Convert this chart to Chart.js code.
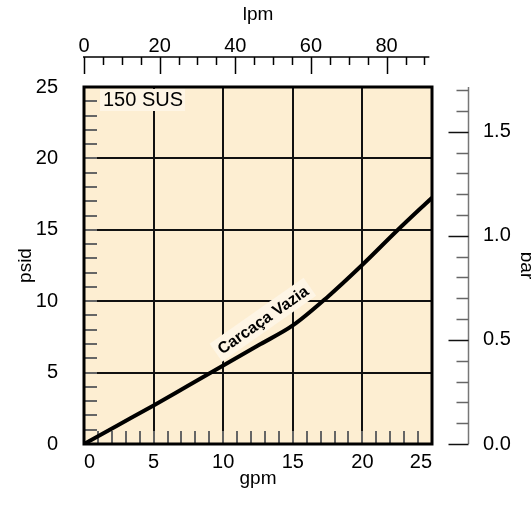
<!DOCTYPE html>
<html>
<head>
<meta charset="utf-8">
<script src="https://cdn.jsdelivr.net/npm/chart.js@4.4.1/dist/chart.umd.min.js"></script>
<style>
  html, body { margin: 0; padding: 0; background: #fff; }
  canvas { display: block; }
</style>
</head>
<body>
<canvas id="myChart" width="531" height="507"></canvas>
<script>
// curve (gpm -> psid)
const gpm = [0, 2.5, 5, 7.5, 10, 12.5, 15, 17.5, 20, 22.5, 25]
const psid = [0, 1.35, 2.7, 4.1, 5.5, 6.9, 8.3, 10.3, 12.55, 14.95, 17.25]

const gpmTicks = [0, 5, 10, 15, 20, 25]
const psidTicks = [0, 5, 10, 15, 20, 25]
const lpmTicks = [0, 20, 40, 60, 80]
const barTicks = [0, 0.5, 1.0, 1.5]

const fluidLabel = '150 SUS'
const curveLabel = 'Carcaça Vazia'
const curveLabelAt = [12.85, 8.7]

const clrPlot = '#fdeed2'
const clrLabelBg = '#fef5e5'
const fontFamily = '"Liberation Sans", Arial, Helvetica, sans-serif'

Chart.defaults.font.family = fontFamily
Chart.defaults.color = '#000'

const tickFont = { size: 20 }
const titleFont = { size: 19 }

const axesPlugin = {
  id: 'axesPlugin',
  beforeDraw(chart) {
    const { ctx, chartArea: a } = chart
    ctx.save()
    ctx.fillStyle = clrPlot
    ctx.fillRect(a.left, a.top, a.right - a.left, a.bottom - a.top)
    ctx.restore()
  },
  beforeDatasetsDraw(chart) {
    const { ctx, chartArea: a, scales } = chart
    const { x, y, x2, y2 } = scales
    ctx.save()

    // little ticks inside the plot
    ctx.strokeStyle = '#666'
    ctx.lineWidth = 2
    ctx.beginPath()
    for (let v = 1; v < 25; v++) {
      const px = Math.round(x.getPixelForValue(v))
      ctx.moveTo(px, a.bottom)
      ctx.lineTo(px, a.bottom - 13)
      const py = Math.round(y.getPixelForValue(v))
      ctx.moveTo(a.left, py)
      ctx.lineTo(a.left + 13, py)
    }
    ctx.stroke()

    // frame
    ctx.strokeStyle = '#000'
    ctx.lineWidth = 3
    ctx.strokeRect(a.left, a.top, a.right - a.left, a.bottom - a.top)

    // top lpm axis, ticks pointing down
    const ty = a.top - 30
    ctx.lineWidth = 1.5
    ctx.beginPath()
    ctx.moveTo(a.left - 1, ty)
    ctx.lineTo(x2.getPixelForValue(91.3), ty)
    for (let v = 0; v <= 90; v += 5) {
      const px = Math.round(x2.getPixelForValue(v)) + 0.5
      ctx.moveTo(px, ty)
      ctx.lineTo(px, ty + (v % 20 === 0 ? 17 : 8))
    }
    ctx.stroke()

    // right bar axis, ticks pointing left
    const rx = a.right + 36.5
    ctx.strokeStyle = '#777'
    ctx.lineWidth = 1.5
    ctx.beginPath()
    ctx.moveTo(rx, y2.getPixelForValue(0))
    ctx.lineTo(rx, a.top)
    ctx.stroke()
    for (let i = 0; i <= 17; i++) {
      const v = i / 10
      const py = Math.round(y2.getPixelForValue(v)) + 0.5
      ctx.strokeStyle = i % 5 === 0 ? '#111' : '#666'
      ctx.beginPath()
      ctx.moveTo(rx, py)
      ctx.lineTo(rx - (i % 5 === 0 ? 20 : 12), py)
      ctx.stroke()
    }
    ctx.restore()
  },
  afterDatasetsDraw(chart) {
    const { ctx, chartArea: a, scales: { x, y } } = chart
    ctx.save()
    ctx.textBaseline = 'middle'

    ctx.font = `20px ${fontFamily}`
    const w = ctx.measureText(fluidLabel).width
    const lx = a.left + 19
    const ly = a.top + 13
    ctx.fillStyle = clrLabelBg
    ctx.fillRect(lx - 3, ly - 11, w + 5, 22)
    ctx.fillStyle = '#000'
    ctx.fillText(fluidLabel, lx, ly)

    const cx = x.getPixelForValue(curveLabelAt[0])
    const cy = y.getPixelForValue(curveLabelAt[1])
    ctx.translate(cx, cy)
    ctx.rotate(-35 * Math.PI / 180)
    ctx.font = `bold 16px ${fontFamily}`
    const cw = ctx.measureText(curveLabel).width
    ctx.fillStyle = clrLabelBg
    ctx.fillRect(-cw / 2 - 4, -11, cw + 8, 22)
    ctx.fillStyle = '#000'
    ctx.textAlign = 'center'
    ctx.fillText(curveLabel, 0, 1)
    ctx.restore()
  },
}

const setTicks = (values) => (axis) => {
  axis.ticks = values.map((value) => ({ value }))
}

const config = {
  type: 'line',
  data: {
    datasets: [
      {
        data: gpm.map((g, i) => ({ x: g, y: psid[i] })),
        borderColor: '#000',
        borderWidth: 4,
        pointRadius: 0,
        cubicInterpolationMode: 'monotone',
        xAxisID: 'x',
        yAxisID: 'y',
      },
    ],
  },
  options: {
    responsive: false,
    animation: false,
    layout: { padding: 0 },
    plugins: {
      legend: { display: false },
      tooltip: { enabled: false },
    },
    scales: {
      x: {
        type: 'linear',
        position: 'bottom',
        min: 0,
        max: 25,
        afterBuildTicks: setTicks(gpmTicks),
        afterFit: (s) => { s.height = 48 },
        ticks: { font: tickFont, padding: 6, align: 'inner', maxRotation: 0 },
        grid: { color: '#111', lineWidth: 2, drawTicks: false },
        border: { display: false },
        title: { display: true, text: 'gpm', font: titleFont, padding: { top: 0, bottom: 2 } },
      },
      y: {
        type: 'linear',
        position: 'left',
        min: 0,
        max: 25,
        afterBuildTicks: setTicks(psidTicks),
        afterFit: (s) => { s.width = 84 },
        ticks: { font: tickFont, padding: 26 },
        grid: { color: '#111', lineWidth: 2, drawTicks: false },
        border: { display: false },
        title: { display: true, text: 'psid', font: titleFont, padding: { top: 14, bottom: 0 } },
      },
      x2: {
        type: 'linear',
        position: 'top',
        min: 0,
        max: 92,
        afterBuildTicks: setTicks(lpmTicks),
        afterFit: (s) => { s.height = 87 },
        ticks: { font: tickFont, padding: 29, maxRotation: 0 },
        grid: { display: false, drawTicks: false },
        border: { display: false },
        title: { display: true, text: 'lpm', font: titleFont, padding: { top: 3, bottom: 0 } },
      },
      y2: {
        type: 'linear',
        position: 'right',
        min: 0,
        max: 1.715,
        afterBuildTicks: setTicks(barTicks),
        afterFit: (s) => { s.width = 99 },
        ticks: { font: tickFont, padding: 51, callback: (v) => v.toFixed(1) },
        grid: { display: false, drawTicks: false },
        border: { display: false },
        title: { display: true, text: 'bar', font: { size: 19, lineHeight: 0.46 }, padding: { top: 0, bottom: 0 } },
      },
    },
  },
  plugins: [axesPlugin],
}

const myChart = new Chart(document.getElementById('myChart'), config)
</script>
</body>
</html>
